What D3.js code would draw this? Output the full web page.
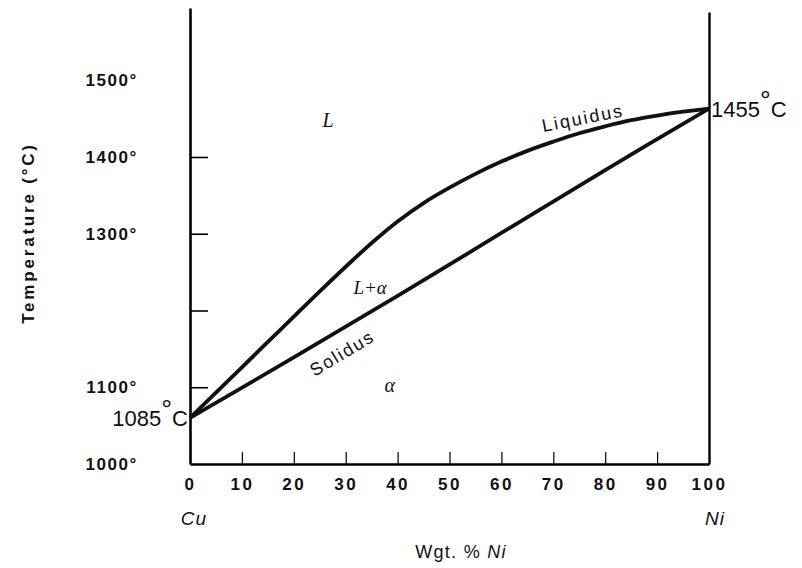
<!DOCTYPE html>
<html>
<head>
<meta charset="utf-8">
<script src="https://cdn.jsdelivr.net/npm/d3@7"></script>
<style>
  body { margin: 0; background: #fff; }
  svg { display: block; }
  .tick-label { font-family: "Liberation Sans", Arial, sans-serif; font-weight: bold; font-size: 17px; fill: #111; }
  .note { font-family: "Liberation Sans", Arial, sans-serif; fill: #111; }
  .phase { font-family: "Liberation Serif", serif; font-style: italic; fill: #111; }
</style>
</head>
<body>
<div id="chart"></div>
<script>
// composition, wt% Ni
const composition = [0, 5, 10, 15, 20, 25, 30, 35, 40, 45, 50, 55, 60, 65, 70, 75, 80, 85, 90, 95, 100];
// liquidus temperature (deg C on the drawn scale)
const liquidus = [1060, 1093, 1126, 1159, 1192, 1225, 1257, 1288, 1316, 1340, 1360, 1378, 1394, 1408, 1420, 1431, 1440, 1448, 1454, 1459, 1463];
// solidus is close to a straight line
const solidusX = [0, 20, 40, 60, 80, 100];
const solidus = [1060, 1139, 1219, 1301, 1383, 1463];

const xTicks = [10, 20, 30, 40, 50, 60, 70, 80, 90];
const xTickLabels = [0, 10, 20, 30, 40, 50, 60, 70, 80, 90, 100];
const yTicks = [1100, 1200, 1300, 1400];
const yTickLabels = [1000, 1100, 1300, 1400, 1500];

const width = 802, height = 568;

const svg = d3.select("#chart").append("svg")
  .attr("width", width).attr("height", height);

const x = d3.scaleLinear().domain([0, 100]).range([190, 709]);
const y = d3.scaleLinear().domain([1000, 1400]).range([464, 157]);
const yFull = y.copy().domain([1000, y.invert(8)]).range([464, 8]);

// left axis, ticks pointing inward
svg.append("g")
  .attr("transform", `translate(${x(0)},0)`)
  .call(d3.axisRight(yFull).tickValues(yTicks).tickSize(18).tickSizeOuter(0).tickFormat(""))
  .call(g => g.select(".domain").attr("stroke-width", 2.6))
  .call(g => g.selectAll(".tick line").attr("stroke-width", 1.6));

svg.append("g")
  .attr("transform", `translate(${x(0)},0)`)
  .call(d3.axisLeft(y).tickValues(yTickLabels).tickSize(0).tickPadding(52).tickFormat(d => d + "°"))
  .call(g => g.select(".domain").remove())
  .call(g => g.selectAll("text").attr("class", "tick-label").attr("font-size", null)
    .attr("font-family", null).attr("letter-spacing", 1.6));

// right axis line
svg.append("g")
  .attr("transform", `translate(${x(100)},0)`)
  .call(d3.axisLeft(y.copy().domain([1000, y.invert(12)]).range([464, 12])).tickValues([]).tickSizeOuter(0))
  .call(g => g.select(".domain").attr("stroke-width", 2.4));

// bottom axis
svg.append("g")
  .attr("transform", `translate(0,${y(1000)})`)
  .call(d3.axisTop(x).tickValues(xTicks).tickSize(12).tickSizeOuter(0).tickFormat(""))
  .call(g => g.select(".domain").attr("stroke-width", 2.6))
  .call(g => g.selectAll(".tick line").attr("stroke-width", 1.2));

svg.append("g")
  .attr("transform", `translate(0,${y(1000)})`)
  .call(d3.axisBottom(x).tickValues(xTickLabels).tickSize(0).tickPadding(14))
  .call(g => g.select(".domain").remove())
  .call(g => g.selectAll("text").attr("class", "tick-label").attr("font-size", null)
    .attr("font-family", null).attr("letter-spacing", 2.5));

// curves
const line = d3.line().x(d => x(d[0])).y(d => y(d[1])).curve(d3.curveCatmullRom);

svg.append("path")
  .datum(d3.zip(composition, liquidus))
  .attr("d", line)
  .attr("fill", "none").attr("stroke", "#111").attr("stroke-width", 3.8);

svg.append("path")
  .datum(d3.zip(solidusX, solidus))
  .attr("d", line)
  .attr("fill", "none").attr("stroke", "#111").attr("stroke-width", 3.8);

// melting points
function meltLabel(xv, yv, anchor, dx, num) {
  const t = svg.append("text").attr("class", "note")
    .attr("x", x(xv) + dx).attr("y", y(yv) + 8)
    .attr("text-anchor", anchor).attr("font-size", 22);
  t.append("tspan").text(num);
  t.append("tspan").attr("font-size", 27).attr("dy", -7).text("°");
  t.append("tspan").attr("dy", 7).text("C");
}
meltLabel(0, liquidus[0], "end", -2, "1085");
meltLabel(100, liquidus[liquidus.length - 1], "start", 2, "1455");

// curve names
svg.append("text").attr("class", "note")
  .attr("transform", `translate(${x(75.7)},${y(1451)}) rotate(-11)`)
  .attr("text-anchor", "middle").attr("dy", "0.35em")
  .attr("font-size", 18).attr("letter-spacing", 2)
  .text("Liquidus");

svg.append("text").attr("class", "note")
  .attr("transform", `translate(${x(29.3)},${y(1144.6)}) rotate(-31)`)
  .attr("text-anchor", "middle").attr("dy", "0.35em")
  .attr("font-size", 18).attr("letter-spacing", 1.8)
  .text("Solidus");

// phase fields
svg.append("text").attr("class", "phase")
  .attr("x", x(26.6)).attr("y", y(1448)).attr("dy", "0.35em")
  .attr("text-anchor", "middle").attr("font-size", 20).text("L");
svg.append("text").attr("class", "phase")
  .attr("x", x(34.7)).attr("y", y(1230.6)).attr("dy", "0.35em")
  .attr("text-anchor", "middle").attr("font-size", 19).text("L+α");
svg.append("text").attr("class", "phase")
  .attr("x", x(38.5)).attr("y", y(1103)).attr("dy", "0.35em")
  .attr("text-anchor", "middle").attr("font-size", 20).text("α");

// element names under the ends
svg.append("text").attr("class", "note")
  .attr("x", x(0) + 4).attr("y", 525).attr("text-anchor", "middle")
  .attr("font-size", 19).attr("font-style", "italic").attr("letter-spacing", 1).text("Cu");
svg.append("text").attr("class", "note")
  .attr("x", x(100) + 6).attr("y", 525).attr("text-anchor", "middle")
  .attr("font-size", 19).attr("font-style", "italic").attr("letter-spacing", 1).text("Ni");

// axis titles
const xt = svg.append("text").attr("class", "note")
  .attr("x", 461).attr("y", 558).attr("text-anchor", "middle")
  .attr("font-size", 18).attr("letter-spacing", 1.3);
xt.append("tspan").text("Wgt. % ");
xt.append("tspan").attr("font-style", "italic").text("Ni");

svg.append("text").attr("class", "note")
  .attr("transform", "translate(28,233) rotate(-90)")
  .attr("text-anchor", "middle").attr("dy", "0.35em")
  .attr("font-size", 17).attr("font-weight", "bold").attr("letter-spacing", 2.8)
  .text("Temperature (°C)");
</script>
</body>
</html>
